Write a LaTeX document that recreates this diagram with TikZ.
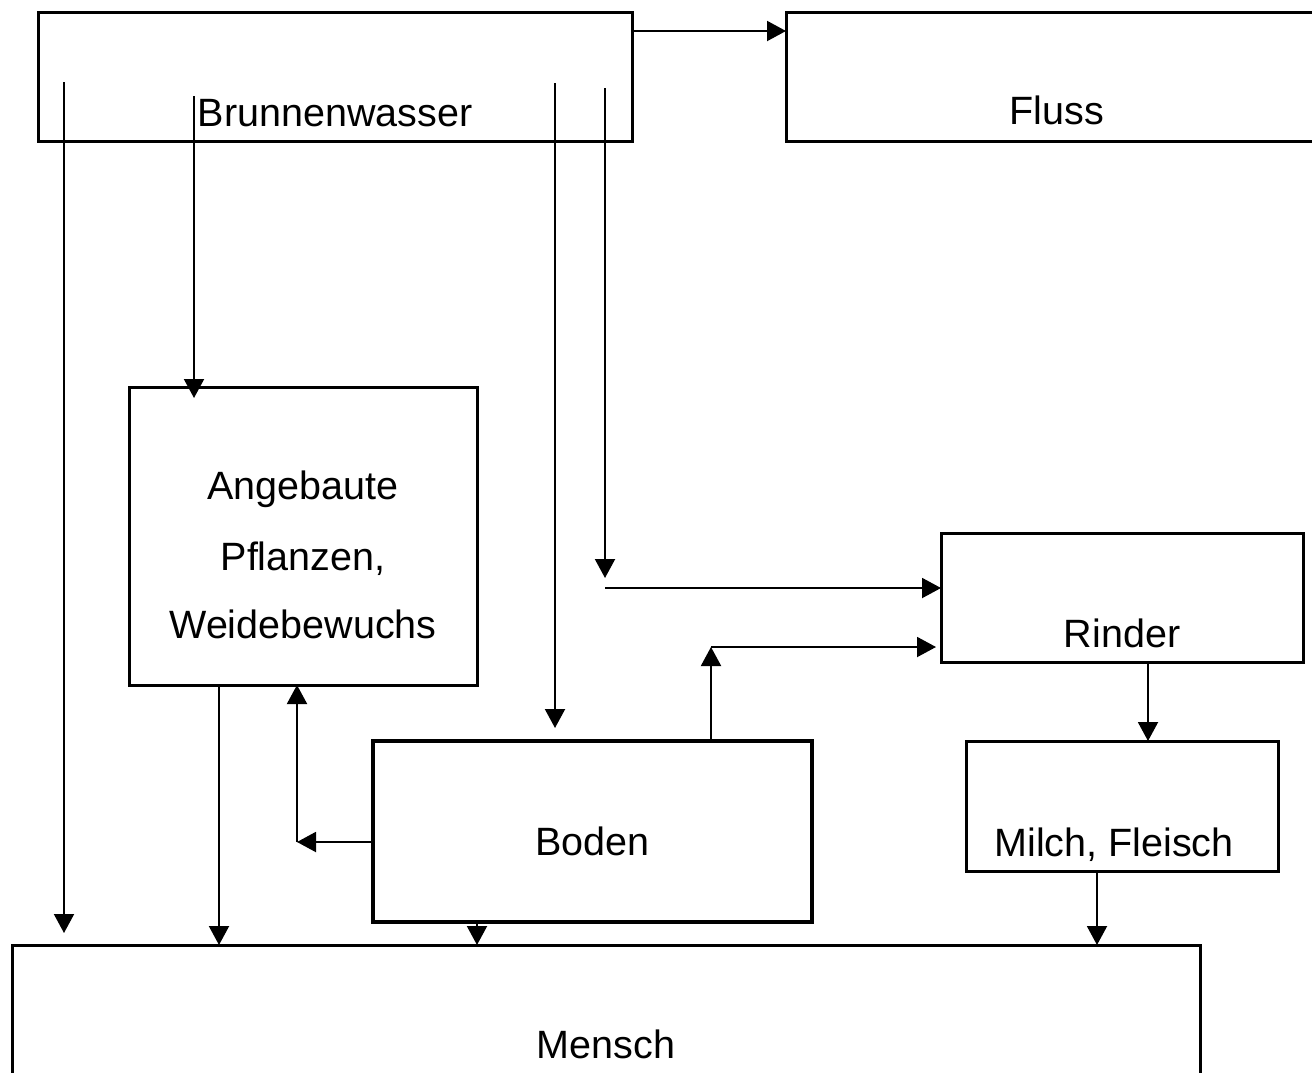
\documentclass[tikz,border=0pt]{standalone}
\usepackage{fontspec}
\setmainfont{Liberation Sans}
\usetikzlibrary{arrows.meta}
\begin{document}
\begin{tikzpicture}[x=1pt,y=-1pt,
  box/.style={draw, line width=3pt, inner sep=0pt, outer sep=0pt},
  lbl/.style={anchor=base, inner sep=0pt, font=\fontsize{39.5}{47}\selectfont},
  arr/.style={line width=2pt, -{Triangle[length=19pt,width=20pt]}}]
\useasboundingbox (0,0) rectangle (1312,1072);
\fill[white] (0,0) rectangle (1312,1072);
\clip (0,0) rectangle (1312,1072);

% boxes
\node[box, minimum width=594pt, minimum height=129pt] (brunnen) at (335,76.5) {};
\node[box, minimum width=542pt, minimum height=129pt] (fluss) at (1057,76.5) {};
\node[box, minimum width=348pt, minimum height=298pt] (angebaut) at (303,536) {};
\node[box, minimum width=362pt, minimum height=129pt] (rinder) at (1122,597.5) {};
\node[box, line width=3.5pt, minimum width=439pt, minimum height=181pt] (boden) at (592.5,831.5) {};
\node[box, minimum width=312pt, minimum height=130pt] (milch) at (1122,806) {};
\node[box, minimum width=1188pt, minimum height=255pt] (mensch) at (606,1072.5) {};

% labels
\node[lbl] (brunnenT) at (335,126) {Brunnenwasser};
\node[lbl] (flussT) at (1057,124) {Fluss};
\node[lbl] (ang1) at (303,499) {Angebaute};
\node[lbl] (ang2) at (303,570) {Pflanzen,};
\node[lbl] (ang3) at (303,638) {Weidebewuchs};
\node[lbl] (rinderT) at (1122,647) {Rinder};
\node[lbl] (bodenT) at (592.5,855) {Boden};
\node[lbl] (milchT) at (1114,856) {Milch, Fleisch};
\node[lbl] (menschT) at (606,1058) {Mensch};

% helper coordinates
\coordinate (yF) at (0,31);
\coordinate (a1s) at (64,82);
\coordinate (a1e) at (64,933);
\coordinate (a2s) at (194,96);
\coordinate (a2e) at (194,398);
\coordinate (a3s) at (555,83);
\coordinate (a3e) at (555,728);
\coordinate (a4s) at (605,88);
\coordinate (a4e) at (605,578);
\coordinate (a5s) at (605,588);
\coordinate (a6) at (711,647);
\coordinate (a6e) at (936,647);
\coordinate (a7) at (1148,0);
\coordinate (a8) at (1097,0);
\coordinate (a9) at (219,0);
\coordinate (a10) at (477,0);
\coordinate (a11) at (297,842);

% connectors
\draw[arr] (brunnen.east |- yF) -- (fluss.west |- yF);
\draw[arr] (a1s) -- (a1e);
\draw[arr] (a2s) -- (a2e);
\draw[arr] (a3s) -- (a3e);
\draw[arr] (a4s) -- (a4e);
\draw[arr] (a5s) -- (rinder.west |- a5s);
\draw[arr] (boden.north -| a6) -- (a6);
\draw[arr] (a6) -- (a6e);
\draw[arr] (rinder.south -| a7) -- (milch.north -| a7);
\draw[arr] (milch.south -| a8) -- (mensch.north -| a8);
\draw[arr] (angebaut.south -| a9) -- (mensch.north -| a9);
\draw[arr] (boden.south -| a10) -- (mensch.north -| a10);
\draw[arr] (boden.west |- a11) -- (a11);
\draw[arr] (a11) -- (angebaut.south -| a11);
\end{tikzpicture}
\end{document}
